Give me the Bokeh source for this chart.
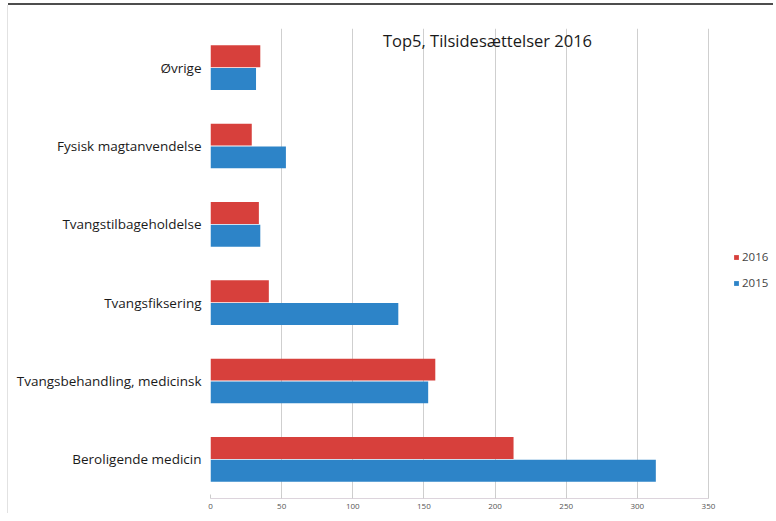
from bokeh.plotting import figure
from bokeh.models import (FactorRange, ColumnDataSource, Legend, LegendItem, Label,
                          FixedTicker)
from bokeh.transform import dodge
from bokeh.embed import file_html
from bokeh.resources import INLINE

categories = ["Beroligende medicin", "Tvangsbehandling, medicinsk", "Tvangsfiksering",
              "Tvangstilbageholdelse", "Fysisk magtanvendelse", "Øvrige"]
values_2016 = [213, 158, 41, 34, 29, 35]
values_2015 = [313, 153, 132, 35, 53, 32]
x_ticks = [0, 50, 100, 150, 200, 250, 300, 350]
title_text = "Top5, Tilsidesættelser 2016"

RED = "#d7403c"
BLUE = "#2d84c8"
FONT = "Open Sans"

src = ColumnDataSource(dict(cat=categories, v2016=values_2016, v2015=values_2015))

p = figure(width=765, height=508, output_backend="svg", toolbar_location=None,
           y_range=FactorRange(*categories, range_padding=0),
           x_range=(0, 393.6),
           min_border_left=202, min_border_right=3, min_border_top=23, min_border_bottom=15,
           border_fill_color="white", background_fill_color="white")
p.outline_line_color = None
p.styles = {"margin-top": "5px", "margin-left": "8px", "background-color": "white",
            "box-shadow": "0 -2px 0 0 #4d4d4d, -1px 0 0 0 #e2e2e2"}

r16 = p.hbar(y=dodge("cat", 0.145, range=p.y_range), right="v2016", left=0, height=0.28,
             source=src, fill_color=RED, line_color=None)
r15 = p.hbar(y=dodge("cat", -0.145, range=p.y_range), right="v2015", left=0, height=0.28,
             source=src, fill_color=BLUE, line_color=None)

p.xaxis.ticker = FixedTicker(ticks=x_ticks)
p.xaxis.bounds = (x_ticks[0], x_ticks[-1])
p.xgrid.ticker = FixedTicker(ticks=x_ticks)
p.xgrid.grid_line_color = "#cfcfcf"
p.xgrid.grid_line_width = 1
p.ygrid.grid_line_color = None

p.xaxis.axis_line_color = "#dcd4dc"
p.xaxis.major_tick_in = 4
p.xaxis.major_tick_out = 0
p.xaxis.major_tick_line_color = "#cccccc"
p.xaxis.minor_tick_line_color = None
p.xaxis.major_label_text_font = FONT
p.xaxis.major_label_text_font_size = "8px"
p.xaxis.major_label_text_color = "#555555"
p.xaxis.major_label_standoff = 5

p.yaxis.axis_line_color = None
p.yaxis.major_tick_line_color = None
p.yaxis.major_tick_out = 0
p.yaxis.major_tick_in = 0
p.yaxis.minor_tick_line_color = None
p.yaxis.major_label_text_font = FONT
p.yaxis.major_label_text_font_size = "13.5px"
p.yaxis.major_label_text_color = "#1a1a1a"
p.yaxis.major_label_standoff = 9

p.add_layout(Label(x=194.7, y=5.85, text=title_text, text_align="center",
                   text_baseline="middle", text_font=FONT, text_font_size="16.5px",
                   text_color="#1a1a1a"))

legend = Legend(items=[LegendItem(label="2016", renderers=[r16]),
                       LegendItem(label="2015", renderers=[r15])],
                location=(523, 208), orientation="vertical",
                glyph_width=6, glyph_height=6, label_height=14, label_text_font=FONT,
                label_text_font_size="11.5px", label_text_color="#444444",
                label_standoff=3, spacing=11, padding=0, margin=0,
                border_line_color=None, background_fill_alpha=0)
p.add_layout(legend, "center")

open("out.html", "w").write(file_html(p, INLINE))
